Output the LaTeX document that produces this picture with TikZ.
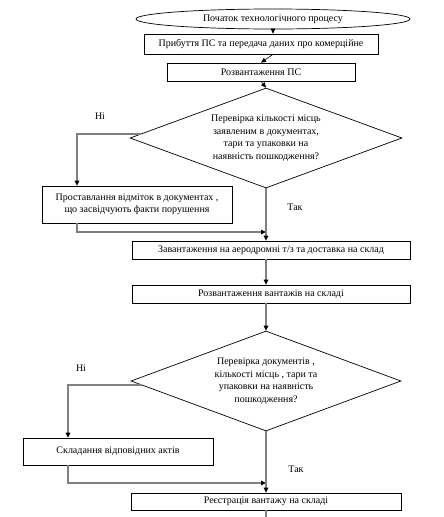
\documentclass[tikz,border=0pt]{standalone}
\usepackage{fontspec}
\setmainfont{Liberation Serif}
\usetikzlibrary{arrows.meta,shapes.geometric,calc}
\definecolor{linegray}{HTML}{808080}

\begin{document}
\begin{tikzpicture}[x=1pt,y=-1pt,
  font=\fontsize{10}{12.5}\selectfont,
  block/.style={draw,line width=0.7pt,inner sep=1pt,align=center},
  decision/.style={draw,diamond,line width=0.7pt,inner sep=0pt,align=center,aspect=2.7},
  flow/.style={linegray,line width=1.3pt,-{Triangle[black,length=5pt,width=4.5pt]}},
  thinflow/.style={black,line width=0.6pt,-{Triangle[black,length=5pt,width=4.5pt]}}]
  \useasboundingbox (0,0) rectangle (444,517);
  \node[draw,ellipse,line width=0.7pt,inner sep=0pt,minimum width=274pt,minimum height=20pt] (start) at (273,19) {Початок технологічного процесу};
  \node[block,minimum width=234pt,minimum height=20pt] (arrive) at (261,44) {Прибуття ПС та передача даних про комерційне};
  \node[block,minimum width=188pt,minimum height=18pt] (unload) at (261,72) {Розвантаження ПС};
  \node[decision,minimum width=272pt,minimum height=100pt] (check1) at (266,138) {Перевірка кількості місць\\заявленим в документах,\\тари та упаковки на\\наявність пошкодження?};
  \node[block,minimum width=190pt,minimum height=37pt] (mark) at (137,204.5) {Проставлання відміток в документах ,\\що засвідчують факти порушення};
  \node[block,minimum width=278pt,minimum height=18pt] (load) at (271,250) {Завантаження на аеродромні т/з та доставка на склад};
  \node[block,minimum width=278pt,minimum height=18pt] (unload2) at (271,294) {Розвантаження вантажів на складі};
  \node[decision,minimum width=270pt,minimum height=100pt] (check2) at (266,381) {Перевірка документів ,\\кількості місць , тари та\\упаковки на наявність\\пошкодження?};
  \node[block,minimum width=190pt,minimum height=27pt] (acts) at (118,451.5) {Складання відповідних актів};
  \node[block,minimum width=270pt,minimum height=17pt] (register) at (266,501.5) {Реєстрація вантажу на складі};
  \node (no1) at (100,116) {Ні};
  \node (yes1) at (295,207) {Так};
  \node (no2) at (81,368) {Ні};
  \node (yes2) at (296,469) {Так};
  \coordinate (nocol1) at (77,0);
  \coordinate (nocol2) at (68,0);
  \coordinate (join1) at (266,232);
  \coordinate (join2) at (266,483);
  \coordinate (end) at (266,517);
  \draw[thinflow] (start.south) -- (start.south |- arrive.north);
  \draw[thinflow] (arrive.south -| start) -- (unload.north);
  \draw[thinflow] (unload.south) -- (check1.north);
  \draw[flow] ($(check1.west)+(11,-4)$) -| (nocol1 |- mark.north);
  \draw[flow] (nocol1 |- mark.south) |- (join1);
  \draw[flow] (check1.south) -- (check1.south |- load.north);
  \draw[flow] (load.south -| check1) -- (check1 |- unload2.north);
  \draw[flow] (unload2.south -| check2) -- (check2.north);
  \draw[flow] ($(check2.west)+(11,4)$) -| (nocol2 |- acts.north);
  \draw[flow] (nocol2 |- acts.south) |- (join2);
  \draw[flow] (check2.south) -- (register.north);
  \draw[linegray,line width=1.3pt] (register.south) -- (end);
\end{tikzpicture}
\end{document}
